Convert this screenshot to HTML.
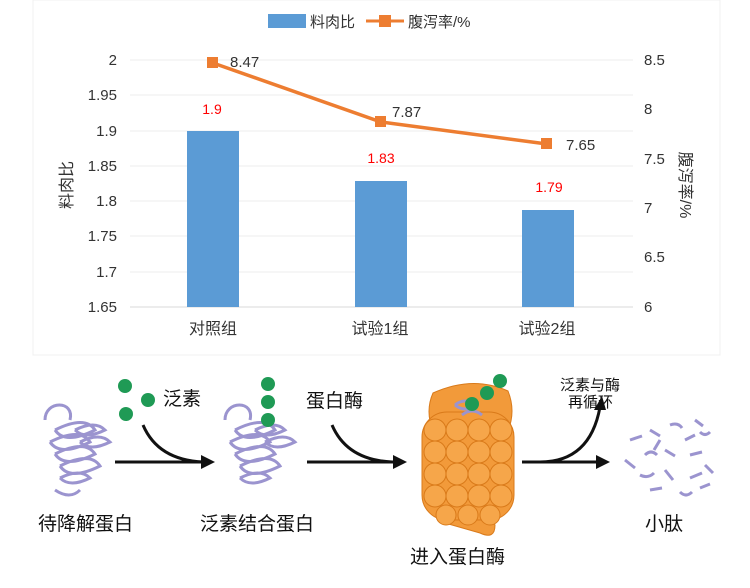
<!DOCTYPE html>
<html><head><meta charset="utf-8"><style>
body{margin:0;background:#fff;width:750px;height:583px;overflow:hidden;font-family:"Liberation Sans","Noto Sans CJK SC",sans-serif}
svg text{font-family:"Liberation Sans","Noto Sans CJK SC",sans-serif}
</style></head><body>
<svg width="750" height="583" viewBox="0 0 750 583">
<rect x="33" y="0" width="687" height="355" fill="#fff" stroke="#f0f0f0"/>
<rect x="268" y="14" width="38" height="14" fill="#5b9bd5"/>
<text x="310" y="27" font-size="15" fill="#333">料肉比</text>
<line x1="366" y1="21" x2="404" y2="21" stroke="#ed7d31" stroke-width="3"/>
<rect x="379" y="15" width="12" height="12" fill="#ed7d31"/>
<text x="408" y="27" font-size="15" fill="#333">腹泻率/%</text>
<g stroke="#ececec" stroke-width="1">
<line x1="130" y1="60" x2="633" y2="60"/><line x1="130" y1="95" x2="633" y2="95"/>
<line x1="130" y1="131" x2="633" y2="131"/><line x1="130" y1="166" x2="633" y2="166"/>
<line x1="130" y1="201" x2="633" y2="201"/><line x1="130" y1="236" x2="633" y2="236"/>
<line x1="130" y1="272" x2="633" y2="272"/>
</g>
<line x1="130" y1="307" x2="633" y2="307" stroke="#d9d9d9"/>
<g font-size="15" fill="#333" text-anchor="end">
<text x="117" y="65">2</text><text x="117" y="100">1.95</text><text x="117" y="136">1.9</text>
<text x="117" y="171">1.85</text><text x="117" y="206">1.8</text><text x="117" y="241">1.75</text>
<text x="117" y="277">1.7</text><text x="117" y="312">1.65</text>
</g>
<g font-size="15" fill="#333">
<text x="644" y="65">8.5</text><text x="644" y="114">8</text><text x="644" y="164">7.5</text>
<text x="644" y="213">7</text><text x="644" y="262">6.5</text><text x="644" y="312">6</text>
</g>
<text transform="translate(72,185) rotate(-90)" font-size="16" fill="#333" text-anchor="middle">料肉比</text>
<text transform="translate(680,185) rotate(90)" font-size="16" fill="#333" text-anchor="middle">腹泻率/%</text>
<g fill="#5b9bd5">
<rect x="187" y="131" width="52" height="176"/>
<rect x="355" y="181" width="52" height="126"/>
<rect x="522" y="210" width="52" height="97"/>
</g>
<g font-size="14" fill="#ff0000" text-anchor="middle">
<text x="212" y="114">1.9</text><text x="381" y="163">1.83</text><text x="549" y="192">1.79</text>
</g>
<polyline points="213,63 381,122 547,144" fill="none" stroke="#ed7d31" stroke-width="3.5"/>
<g fill="#ed7d31"><rect x="207" y="57" width="11" height="11"/><rect x="375" y="116" width="11" height="11"/><rect x="541" y="138" width="11" height="11"/></g>
<g font-size="15" fill="#333">
<text x="230" y="67">8.47</text><text x="392" y="117">7.87</text><text x="566" y="150">7.65</text>
</g>
<g font-size="16" fill="#333" text-anchor="middle">
<text x="213" y="334">对照组</text><text x="380" y="334">试验1组</text><text x="547" y="334">试验2组</text>
</g>
<g fill="none" stroke="#9b94cf" stroke-width="3">
<path d="M45,420 c0,-20 30,-20 25,0 M55,430 q30,-15 40,0 q-30,15 -40,0 M50,442 q30,-15 40,0 q-30,15 -40,0 M55,454 q30,-15 40,0 q-30,15 -40,0 M60,466 q30,-15 40,0 q-30,15 -40,0 M75,430 q20,-10 30,0 q-20,10 -30,0 M80,442 q20,-10 30,0 q-20,10 -30,0 M60,478 q20,-10 30,0 q-20,10 -30,0 M55,490 q15,10 25,0"/>
<path d="M225,420 c0,-20 30,-20 25,0 M235,430 q30,-15 40,0 q-30,15 -40,0 M230,442 q30,-15 40,0 q-30,15 -40,0 M235,454 q30,-15 40,0 q-30,15 -40,0 M240,466 q30,-15 40,0 q-30,15 -40,0 M255,430 q20,-10 30,0 q-20,10 -30,0 M265,442 q20,-10 30,0 q-20,10 -30,0 M240,478 q20,-10 30,0 q-20,10 -30,0"/>
<path d="M630,440 l12,-4 M650,430 l10,6 M670,425 q8,-3 12,3 M685,440 l10,-5 M700,432 q5,5 10,0 M625,460 l10,8 M645,455 q6,-6 12,0 M665,450 l10,6 M690,455 l12,-3 M705,465 l8,8 M640,475 q8,4 14,-2 M665,470 l8,10 M690,478 l12,-5 M650,490 l12,-2 M680,492 q6,6 12,0 M700,488 l10,-4 M660,440 l-6,10 M695,420 l8,6"/>
</g>
<g fill="#f29a3a" stroke="#d97a1a" stroke-width="1">
<path d="M433,393 q40,-18 75,-2 q8,20 0,40 l-75,0 q-8,-20 0,-38z"/>
<path d="M445,510 q40,-8 50,15 q0,15 -15,8 l-35,-10z"/>
<rect x="422" y="412" width="92" height="108" rx="25"/>
</g>
<path d="M455,405 q10,-8 20,0 q-10,8 -20,0 M462,415 q10,-8 20,0" fill="none" stroke="#9b94cf" stroke-width="3"/>
<g fill="#f6a64a" stroke="#d97a1a" stroke-width="1">
<circle cx="435" cy="430" r="11"/><circle cx="457" cy="430" r="11"/><circle cx="479" cy="430" r="11"/><circle cx="501" cy="430" r="11"/>
<circle cx="435" cy="452" r="11"/><circle cx="457" cy="452" r="11"/><circle cx="479" cy="452" r="11"/><circle cx="501" cy="452" r="11"/>
<circle cx="435" cy="474" r="11"/><circle cx="457" cy="474" r="11"/><circle cx="479" cy="474" r="11"/><circle cx="501" cy="474" r="11"/>
<circle cx="435" cy="496" r="11"/><circle cx="457" cy="496" r="11"/><circle cx="479" cy="496" r="11"/><circle cx="501" cy="496" r="11"/>
<circle cx="446" cy="515" r="10"/><circle cx="468" cy="515" r="10"/><circle cx="490" cy="515" r="10"/>
</g>
<g fill="#1f9a55">
<circle cx="125" cy="386" r="7"/><circle cx="148" cy="400" r="7"/><circle cx="126" cy="414" r="7"/>
<circle cx="268" cy="384" r="7"/><circle cx="268" cy="402" r="7"/><circle cx="268" cy="420" r="7"/>
<circle cx="487" cy="393" r="7"/><circle cx="500" cy="381" r="7"/><circle cx="472" cy="404" r="7"/>
</g>
<g stroke="#111" stroke-width="3" fill="none">
<line x1="115" y1="462" x2="205" y2="462"/>
<path d="M143,425 q15,35 60,37"/>
<line x1="307" y1="462" x2="397" y2="462"/>
<path d="M332,425 q15,35 60,37"/>
<line x1="522" y1="462" x2="600" y2="462"/>
<path d="M540,462 q50,0 60,-55"/>
</g>
<g fill="#111">
<polygon points="215,462 201,455 201,469"/><polygon points="407,462 393,455 393,469"/>
<polygon points="610,462 596,455 596,469"/><polygon points="602,396 594,410 606,410"/>
</g>
<g font-size="19" fill="#111">
<text x="163" y="405">泛素</text>
<text x="306" y="407">蛋白酶</text>
<text x="38" y="530">待降解蛋白</text>
<text x="200" y="530">泛素结合蛋白</text>
<text x="410" y="563">进入蛋白酶</text>
<text x="645" y="530">小肽</text>
</g>
<g font-size="15" fill="#111"><text x="560" y="390">泛素与酶</text><text x="568" y="407">再循环</text></g>
</svg>
</body></html>
